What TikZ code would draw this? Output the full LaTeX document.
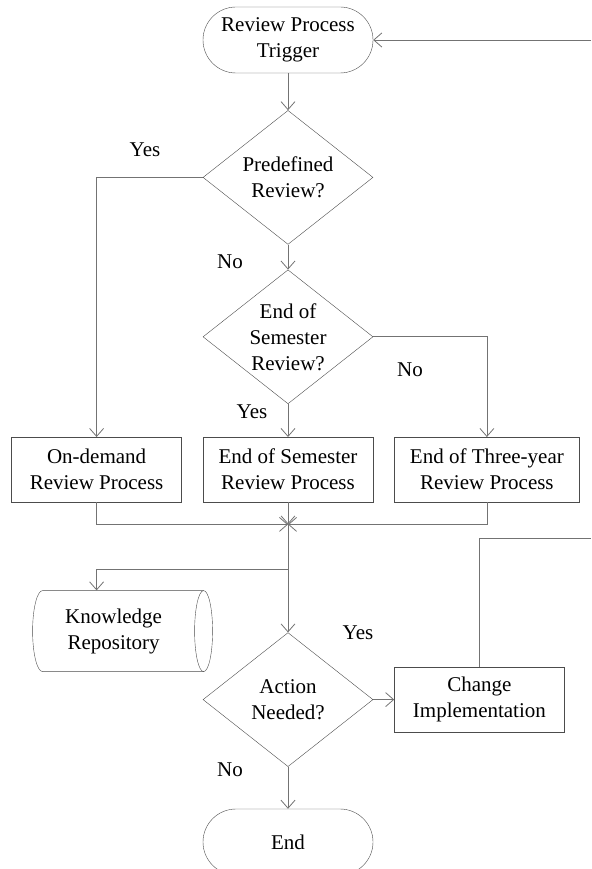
\documentclass[tikz,border=0pt]{standalone}
\usepackage{fontspec}
\setmainfont{Liberation Serif}
\usetikzlibrary{shapes.geometric,arrows.meta,positioning}
\tikzset{block/.style = {draw=black!70, rectangle, minimum height = 65pt, minimum width = 170pt, align = center},
         term/.style = {draw=black!70, rectangle, rounded corners = 33pt, minimum height = 66pt, minimum width = 170pt, align = center},
         decision/.style = {draw=black!70, diamond, aspect = 1.27, inner sep = 0pt, minimum width = 170pt, minimum height = 134pt, align = center},
         store/.style = {minimum height = 81pt, align = center},
         line/.style = {draw=black!55, line width = 0.8pt},
         arrow/.style = {line, -{Straight Barb[length=8pt,width=14pt]}},
         junction/.style = {coordinate},
}

\begin{document}
\begin{tikzpicture}[x = 1pt, y = -1pt, node distance = 21pt, font = \fontsize{21}{26}\selectfont]
  \useasboundingbox (0,0) rectangle (591,869);

  \node[term] (trigger) at (288,40) {Review Process\\Trigger};
  \node[decision, below = 37pt of trigger] (predef) {Predefined\\Review?};
  \node[decision, below = 25pt of predef] (endsem) {End of\\Semester\\Review?};
  \node[block, below = 33pt of endsem] (semproc) {End of Semester\\Review Process};
  \node[block, left = of semproc] (ondemand) {On-demand\\Review Process};
  \node[block, right = of semproc, minimum width = 185pt] (threeyr) {End of Three-year\\Review Process};
  \node[junction, below = 22pt of semproc] (merge) {};
  \node[junction, below = 45pt of merge] (split) {};
  \node[store, below = 88pt of ondemand, xshift = 17pt] (kr) {Knowledge\\Repository};
  \node[decision, below = 108pt of merge] (action) {Action\\Needed?};
  \node[block, right = of action] (change) {Change\\Implementation};
  \node[term, below = 42pt of action] (finish) {End};
  \coordinate (entrypt) at (591,40);
  \coordinate (exitpt) at (591,538);

  \node (yes1) at (145,150) {Yes};
  \node (no1) at (230,262) {No};
  \node (no2) at (410,370) {No};
  \node (yes2) at (252,412) {Yes};
  \node (yes3) at (358,633) {Yes};
  \node (no3) at (230,770) {No};

  % stored data outline
  \begin{scope}[shift = {(kr.center)}, draw = black!70]
    \draw (90,-40.5) -- (-71,-40.5) arc [start angle = 270, end angle = 90, x radius = 10, y radius = 40.5] -- (90,40.5);
    \draw (90,0) ellipse [x radius = 9, y radius = 40.5];
  \end{scope}

  \draw[arrow] (entrypt) -- (trigger);
  \draw[arrow] (trigger) -- (predef);
  \draw[arrow] (predef) -- (endsem);
  \draw[arrow] (predef.west) -| (ondemand);
  \draw[arrow] (endsem) -- (semproc);
  \draw[arrow] (endsem.east) -| (threeyr);
  \draw[arrow] (ondemand) |- (merge);
  \draw[arrow] (threeyr) |- (merge);
  \draw[arrow] (semproc) -- (merge);
  \draw[arrow] (merge) -- (action);
  \draw[arrow] (split) -| (ondemand.south |- kr.north);
  \draw[arrow] (action) -- (change);
  \draw[arrow] (action) -- (finish);
  \draw[line] (change) |- (exitpt);

\end{tikzpicture}
\end{document}
